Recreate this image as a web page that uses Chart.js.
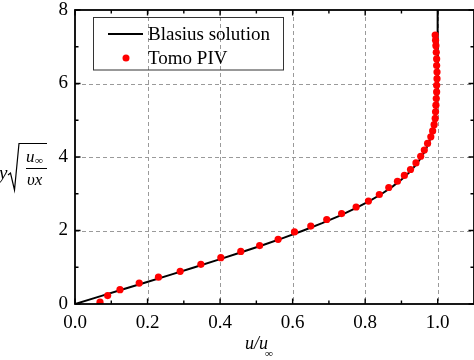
<!DOCTYPE html>
<html>
<head>
<meta charset="utf-8">
<script src="https://cdn.jsdelivr.net/npm/chart.js@4/dist/chart.umd.min.js"></script>
<style>
html,body{margin:0;padding:0;background:#fff;overflow:hidden;}
#wrap{position:relative;width:474px;height:360px;overflow:hidden;}
</style>
</head>
<body>
<div id="wrap"><canvas id="c" width="478" height="360" style="width:478px;height:360px;"></canvas></div>
<script>
// Blasius solution (eta, u/u_inf)
const blasiusEta = [0,0.2,0.4,0.6,0.8,1.0,1.2,1.4,1.6,1.8,2.0,2.2,2.4,2.6,2.8,3.0,3.2,3.4,3.6,3.8,4.0,4.2,4.4,4.6,4.8,5.0,5.4,5.8,6.2,6.6,7.0,8.0];
const blasiusU   = [0,0.0664,0.1328,0.1989,0.2647,0.3298,0.3938,0.4563,0.5168,0.5748,0.6298,0.6813,0.7290,0.7725,0.8115,0.8461,0.8761,0.9018,0.9233,0.9411,0.9555,0.9670,0.9759,0.9827,0.9878,0.9916,0.9962,0.9984,0.9994,0.9998,0.9999,1.0];
// Tomo PIV measurements
const pivU   = [0.069,0.090,0.124,0.177,0.230,0.290,0.347,0.402,0.457,0.509,0.560,0.605,0.650,0.694,0.735,0.775,0.809,0.839,0.865,0.889,0.908,0.925,0.940,0.953,0.963,0.972,0.981,0.986,0.990,0.993,0.994,0.995,0.996,0.997,0.997,0.998,0.998,0.997,0.997,0.996,0.995,0.994,0.993];
const pivEta = [0.05,0.23,0.39,0.57,0.73,0.89,1.08,1.26,1.43,1.59,1.76,1.96,2.12,2.30,2.46,2.64,2.80,2.98,3.17,3.34,3.50,3.66,3.84,4.02,4.19,4.37,4.55,4.71,4.88,5.05,5.23,5.41,5.59,5.77,5.95,6.13,6.31,6.49,6.67,6.85,7.03,7.18,7.32];
const xTickLabels = ['0.0','0.2','0.4','0.6','0.8','1.0'];
const yTickLabels = ['0','2','4','6','8'];
const xMinorTicks = [0.1,0.3,0.5,0.7,0.9];
const yMinorTicks = [1,3,5,7];
const seriesNames = ['Blasius solution','Tomo PIV'];

const SERIF = "'Liberation Serif','Times New Roman',serif";

const framePlugin = {
  id:'frame',
  beforeDatasetsDraw(chart){
    const ctx=chart.ctx, a=chart.chartArea, xs=chart.scales.x, ys=chart.scales.y;
    ctx.save();
    ctx.strokeStyle='#9a9a9a'; ctx.lineWidth=1; ctx.setLineDash([4,3]);
    xs.ticks.forEach(t=>{
      if(t.value<=xs.min) return;
      const px=Math.round(xs.getPixelForValue(t.value))+0.5;
      ctx.beginPath(); ctx.moveTo(px,a.top); ctx.lineTo(px,a.bottom); ctx.stroke();
    });
    ys.ticks.forEach(t=>{
      if(t.value<=ys.min||t.value>=ys.max) return;
      const py=Math.round(ys.getPixelForValue(t.value))+0.5;
      ctx.beginPath(); ctx.moveTo(a.left,py); ctx.lineTo(a.right,py); ctx.stroke();
    });
    ctx.restore();
  },
  afterDraw(chart){
    const ctx=chart.ctx, a=chart.chartArea, xs=chart.scales.x, ys=chart.scales.y;
    ctx.save();
    ctx.strokeStyle='#000'; ctx.lineWidth=1.8; ctx.setLineDash([]);
    ctx.strokeRect(a.left,a.top,a.right-a.left,a.bottom-a.top);
    ctx.lineWidth=1.4;
    const major=5.5, minor=3.5;
    xTickLabels.forEach(l=>{
      const px=xs.getPixelForValue(parseFloat(l));
      ctx.beginPath(); ctx.moveTo(px,a.bottom); ctx.lineTo(px,a.bottom-major);
      ctx.moveTo(px,a.top); ctx.lineTo(px,a.top+major); ctx.stroke();
    });
    xMinorTicks.forEach(v=>{
      const px=xs.getPixelForValue(v);
      ctx.beginPath(); ctx.moveTo(px,a.bottom); ctx.lineTo(px,a.bottom-minor);
      ctx.moveTo(px,a.top); ctx.lineTo(px,a.top+minor); ctx.stroke();
    });
    yTickLabels.forEach(l=>{
      const py=ys.getPixelForValue(parseFloat(l));
      ctx.beginPath(); ctx.moveTo(a.left,py); ctx.lineTo(a.left+major,py);
      ctx.moveTo(a.right,py); ctx.lineTo(a.right-major,py); ctx.stroke();
    });
    yMinorTicks.forEach(v=>{
      const py=ys.getPixelForValue(v);
      ctx.beginPath(); ctx.moveTo(a.left,py); ctx.lineTo(a.left+minor,py);
      ctx.moveTo(a.right,py); ctx.lineTo(a.right-minor,py); ctx.stroke();
    });

    // Legend
    ctx.lineWidth=1; ctx.strokeStyle='#333';
    ctx.strokeRect(93.5,17.5,190,52.5);
    ctx.strokeStyle='#000'; ctx.lineWidth=2;
    ctx.beginPath(); ctx.moveTo(108,34); ctx.lineTo(143,34); ctx.stroke();
    ctx.fillStyle='#f00';
    ctx.beginPath(); ctx.arc(126,58,3.5,0,Math.PI*2); ctx.fill();
    ctx.fillStyle='#000'; ctx.font='19px '+SERIF; ctx.textBaseline='alphabetic'; ctx.textAlign='left';
    ctx.fillText(seriesNames[0],148,40);
    ctx.fillText(seriesNames[1],148,64);

    // X title: u/u∞
    ctx.font='italic 18px '+SERIF;
    ctx.fillText('u/u',245,349);
    ctx.font='italic 11px '+SERIF;
    ctx.fillText('\u221E',265,357);

    // Y title: y sqrt(u∞ / υx)
    ctx.font='italic 19px '+SERIF;
    ctx.fillText('y',-1,179);
    ctx.lineWidth=1.2;
    ctx.beginPath();
    ctx.moveTo(8,175); ctx.lineTo(10.5,173); ctx.lineTo(14.5,190); ctx.lineTo(19,143.5); ctx.lineTo(47,143.5);
    ctx.stroke();
    ctx.font='italic 17px '+SERIF;
    ctx.fillText('u',26,162);
    ctx.font='italic 11px '+SERIF;
    ctx.fillText('\u221E',35,164);
    ctx.lineWidth=1;
    ctx.beginPath(); ctx.moveTo(26,168.5); ctx.lineTo(47,168.5); ctx.stroke();
    ctx.font='italic 17px '+SERIF;
    ctx.fillText('\u03C5x',27,185);
    ctx.restore();
  }
};

new Chart(document.getElementById('c'),{
  type:'scatter',
  data:{
    datasets:[
      {label:seriesNames[0], data:blasiusEta.map((e,i)=>({x:blasiusU[i],y:e})), showLine:true,
       borderColor:'#000', borderWidth:2, pointRadius:0, tension:0, order:2},
      {label:seriesNames[1], data:pivEta.map((e,i)=>({x:pivU[i],y:e})), showLine:false,
       backgroundColor:'#f00', borderColor:'#f00', pointRadius:3.6, borderWidth:0, order:1}
    ]
  },
  options:{
    responsive:false, animation:false, devicePixelRatio:1,
    layout:{padding:{left:0,right:0,top:10,bottom:0}},
    plugins:{legend:{display:false}, tooltip:{enabled:false}},
    scales:{
      x:{type:'linear', min:0, max:1.1,
         grid:{display:false, drawTicks:false}, border:{display:false},
         afterBuildTicks:(s)=>{s.ticks=xTickLabels.map(l=>({value:parseFloat(l)}));},
         ticks:{padding:8, color:'#000', font:{family:SERIF,size:19},
                maxRotation:0, autoSkip:false,
                callback:(v)=>Number(v).toFixed(1)},
         afterFit:(s)=>{s.height=56; s.paddingLeft=0; s.paddingRight=0;}},
      y:{type:'linear', min:0, max:8,
         grid:{display:false, drawTicks:false}, border:{display:false},
         afterBuildTicks:(s)=>{s.ticks=yTickLabels.map(l=>({value:parseFloat(l)}));},
         ticks:{padding:7, color:'#000', font:{family:SERIF,size:19},
                callback:(v)=>String(v)},
         afterFit:(s)=>{s.width=75; s.paddingTop=0; s.paddingBottom=0;}}
    }
  },
  plugins:[framePlugin]
});
</script>
</body>
</html>
